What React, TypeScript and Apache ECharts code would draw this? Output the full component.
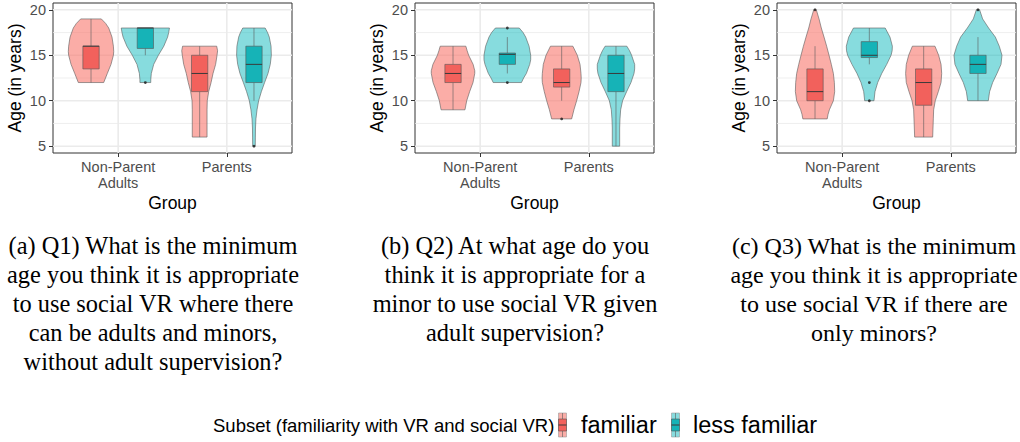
import React, { useEffect, useRef } from 'react';
import * as echarts from 'echarts';

// ---------- categories / ticks ----------
const groupLabels = ['Non-Parent\nAdults', 'Parents'];
const groupPositions = [1, 2];
const subsetNames = ['familiar', 'less familiar'];
const yTickValues = [5, 10, 15, 20];
const yMinorValues = [7.5, 12.5, 17.5];

// ---------- violin profiles: [age, half-width in group units] ----------
// Q1
const q1FamNpa = [[19, 0.095], [18.5, 0.135], [18, 0.163], [17, 0.193], [16, 0.206], [15.4, 0.209], [15, 0.206], [14, 0.184], [13, 0.15], [12, 0.117]];
const q1LessNpa = [[18, 0.222], [17.5, 0.215], [17, 0.205], [16, 0.17], [15, 0.12], [14, 0.077], [13, 0.055], [12.3, 0.05], [12, 0.05]];
const q1FamPar = [[16, 0.157], [15.5, 0.165], [15, 0.16], [14, 0.147], [13, 0.123], [12, 0.105], [11, 0.083], [10, 0.07], [9, 0.068], [6, 0.068]];
const q1LessPar = [[18, 0.103], [17.5, 0.125], [17, 0.141], [16, 0.157], [15, 0.16], [14, 0.15], [13, 0.129], [12, 0.098], [11, 0.068], [10, 0.043], [9, 0.028], [8, 0.018], [7, 0.014], [6, 0.013], [5, 0.012]];
// Q2
const q2FamNpa = [[16, 0.118], [15.5, 0.13], [15, 0.144], [14, 0.185], [13.3, 0.2], [13, 0.2], [12, 0.184], [11, 0.153], [10, 0.126], [9, 0.11]];
const q2LessNpa = [[18, 0.11], [17.5, 0.145], [17, 0.169], [16, 0.2], [15, 0.215], [14.5, 0.215], [14, 0.206], [13, 0.175], [12.5, 0.15], [12, 0.13]];
const q2FamPar = [[16, 0.103], [15, 0.144], [14, 0.169], [13, 0.178], [12.5, 0.18], [12, 0.178], [11, 0.16], [10, 0.138], [9, 0.113], [8, 0.092]];
const q2LessPar = [[16, 0.1], [15.5, 0.125], [15, 0.144], [14, 0.172], [13.5, 0.172], [13, 0.166], [12, 0.138], [11, 0.098], [10, 0.061], [9, 0.043], [8, 0.037], [7, 0.034], [5, 0.034]];
// Q3
const q3FamNpa = [[20, 0.012], [19, 0.037], [18, 0.058], [17, 0.083], [16, 0.107], [15, 0.129], [14, 0.15], [13, 0.169], [12, 0.178], [11, 0.181], [10, 0.169], [9, 0.132], [8.5, 0.12], [8, 0.112]];
const q3LessNpa = [[18, 0.146], [17, 0.19], [16, 0.212], [15.5, 0.21], [15, 0.2], [14, 0.16], [13, 0.114], [12, 0.077], [11, 0.052], [10, 0.043]];
const q3FamPar = [[16, 0.104], [15, 0.138], [14, 0.16], [13, 0.166], [12, 0.16], [11, 0.135], [10, 0.107], [9, 0.092], [8, 0.089], [6, 0.083]];
const q3LessPar = [[20, 0.015], [19, 0.043], [18, 0.098], [17, 0.16], [16, 0.196], [15, 0.221], [14, 0.212], [13, 0.175], [12, 0.135], [11, 0.107], [10, 0.095]];

// ---------- box stats: [min, q1, median, q3, max] ----------
const q1Boxes = [[12, 13.5, 16, 16, 19], [15, 15.75, 18, 18, 18], [6, 11, 13, 15, 16], [10, 12, 14, 16, 18]];
const q2Boxes = [[9, 12, 13, 14, 16], [13, 14, 15.1, 15.25, 17], [10, 11.5, 12, 13.5, 16], [5, 11, 13, 15, 16]];
const q3Boxes = [[8, 10, 11, 13.5, 16], [14, 14.75, 15, 16.5, 18], [6, 9.5, 12, 13.5, 16], [10, 13, 14, 15, 17]];

// ---------- outliers: [violin index, age] ----------
const q1Outliers = [[1, 12], [3, 5]];
const q2Outliers = [[1, 18], [1, 12], [2, 8]];
const q3Outliers = [[0, 20], [1, 12], [1, 10], [3, 20]];

// ---------- captions ----------
const captionA = ['(a) Q1) What is the minimum', 'age you think it is appropriate', 'to use social VR where there', 'can be adults and minors,', 'without adult supervision?'];
const captionB = ['(b) Q2) At what age do you', 'think it is appropriate for a', 'minor to use social VR given', 'adult supervision?'];
const captionC = ['(c) Q3) What is the minimum', 'age you think it is appropriate', 'to use social VR if there are', 'only minors?'];
const legendTitle = 'Subset (familiarity with VR and social VR)';

const panels = [
  { profiles: [q1FamNpa, q1LessNpa, q1FamPar, q1LessPar], boxes: q1Boxes, outliers: q1Outliers, caption: captionA },
  { profiles: [q2FamNpa, q2LessNpa, q2FamPar, q2LessPar], boxes: q2Boxes, outliers: q2Outliers, caption: captionB },
  { profiles: [q3FamNpa, q3LessNpa, q3FamPar, q3LessPar], boxes: q3Boxes, outliers: q3Outliers, caption: captionC },
];

const DODGE = 0.25;
const BOX_HALF = 0.075;
const X_MIN = 0.4, X_MAX = 2.6, Y_MIN = 4.25, Y_MAX = 20.75;
const violinFills = ['rgba(248,118,109,0.6)', 'rgba(0,180,185,0.47)'];
const boxFills = ['#F2615C', '#16B3B7'];
const SANS = '"Liberation Sans", Arial, sans-serif';
const SERIF = '"Liberation Serif", "Times New Roman", serif';

function centerOf(i: number) {
  const g = groupPositions[Math.floor(i / 2)];
  return g + (i % 2 === 0 ? -DODGE : DODGE);
}

function buildOption() {
  const PANEL_STEP = 362;
  const grid: any[] = [];
  const xAxis: any[] = [];
  const yAxis: any[] = [];
  const series: any[] = [];
  const graphic: any[] = [];

  panels.forEach((p, pi) => {
    grid.push({ left: 53 + PANEL_STEP * pi, top: 3, width: 239, height: 150, show: true, borderColor: '#333333', borderWidth: 1, backgroundColor: 'transparent' });
    xAxis.push({
      type: 'value', gridIndex: pi, min: X_MIN, max: X_MAX,
      axisLine: { show: false }, splitLine: { show: false },
      axisTick: { show: true, customValues: groupPositions, length: 4, lineStyle: { color: '#333333', width: 1 } },
      axisLabel: {
        customValues: groupPositions, margin: 6, color: '#4D4D4D', fontSize: 14.5, lineHeight: 16, fontFamily: SANS,
        formatter: (v: number) => groupLabels[groupPositions.indexOf(Math.round(v))] ?? '',
      },
      name: 'Group', nameLocation: 'middle', nameGap: 41,
      nameTextStyle: { color: '#000', fontSize: 17.5, fontFamily: SANS },
    });
    yAxis.push({
      type: 'value', gridIndex: pi, min: Y_MIN, max: Y_MAX,
      axisLine: { show: false }, splitLine: { show: false },
      axisTick: { show: true, customValues: yTickValues, length: 4, lineStyle: { color: '#333333', width: 1 } },
      axisLabel: { customValues: yTickValues, margin: 7, color: '#4D4D4D', fontSize: 14.5, fontFamily: SANS },
      name: 'Age (in years)', nameLocation: 'middle', nameRotate: 90, nameGap: 29,
      nameTextStyle: { color: '#000', fontSize: 17.5, fontFamily: SANS },
    });

    // grid lines
    const gridData: number[][] = [];
    yTickValues.forEach((v) => gridData.push([X_MIN, v, X_MAX, v, 1.6]));
    yMinorValues.forEach((v) => gridData.push([X_MIN, v, X_MAX, v, 0.8]));
    groupPositions.forEach((v) => gridData.push([v, Y_MIN, v, Y_MAX, 1.6]));
    series.push({
      type: 'custom', xAxisIndex: pi, yAxisIndex: pi, z: 0, silent: true,
      data: gridData,
      renderItem: (params: any, api: any) => {
        const a = api.coord([api.value(0), api.value(1)]);
        const b = api.coord([api.value(2), api.value(3)]);
        return { type: 'line', shape: { x1: a[0], y1: a[1], x2: b[0], y2: b[1] }, style: { stroke: '#EBEBEB', lineWidth: api.value(4) } };
      },
    });

    // violins
    series.push({
      type: 'custom', xAxisIndex: pi, yAxisIndex: pi, z: 2, silent: true,
      data: p.profiles.map((prof, i) => [centerOf(i), prof[0][0]]),
      renderItem: (params: any, api: any) => {
        const i = params.dataIndex;
        const prof = p.profiles[i];
        const cx = centerOf(i);
        const right = prof.map(([age, hw]) => api.coord([cx + hw, age]));
        const left = prof.slice().reverse().map(([age, hw]) => api.coord([cx - hw, age]));
        return {
          type: 'polygon', shape: { points: right.concat(left) },
          style: { fill: violinFills[i % 2], stroke: '#5A5A5A', lineWidth: 0.6 },
        };
      },
    });

    // boxes
    series.push({
      type: 'custom', xAxisIndex: pi, yAxisIndex: pi, z: 3, silent: true,
      encode: { x: 0, y: [1, 2, 3, 4, 5] },
      data: p.boxes.map((b, i) => [centerOf(i), ...b]),
      renderItem: (params: any, api: any) => {
        const i = params.dataIndex;
        const cx = api.value(0);
        const mn = api.value(1), q1 = api.value(2), md = api.value(3), q3 = api.value(4), mx = api.value(5);
        const top = api.coord([cx, mx]);
        const bot = api.coord([cx, mn]);
        const tl = api.coord([cx - BOX_HALF, q3]);
        const br = api.coord([cx + BOX_HALF, q1]);
        const mL = api.coord([cx - BOX_HALF, md]);
        const mR = api.coord([cx + BOX_HALF, md]);
        const wStyle = { stroke: '#5A5A5A', lineWidth: 0.6 };
        return {
          type: 'group',
          children: [
            { type: 'line', shape: { x1: top[0], y1: top[1], x2: top[0], y2: tl[1] }, style: wStyle },
            { type: 'line', shape: { x1: bot[0], y1: br[1], x2: bot[0], y2: bot[1] }, style: wStyle },
            { type: 'rect', shape: { x: tl[0], y: tl[1], width: br[0] - tl[0], height: br[1] - tl[1] }, style: { fill: boxFills[i % 2], stroke: '#555555', lineWidth: 0.6 } },
            { type: 'line', shape: { x1: mL[0], y1: mL[1], x2: mR[0], y2: mR[1] }, style: { stroke: '#3A3A3A', lineWidth: 1 } },
          ],
        };
      },
    });

    // outliers
    series.push({
      type: 'scatter', xAxisIndex: pi, yAxisIndex: pi, z: 4, silent: true,
      symbol: 'circle', symbolSize: 2.8,
      itemStyle: { color: '#1A1A1A' },
      data: p.outliers.map(([vi, age]) => [centerOf(vi), age]),
    });

    // caption (the last one is kept just inside the right edge)
    const capX = pi === 2 ? 874 : 153 + PANEL_STEP * pi;
    const capSize = pi === 2 ? 24 : 24.4;
    graphic.push({
      type: 'text', x: capX, y: 231, silent: true,
      style: { text: p.caption.join('\n'), font: `${capSize}px ${SERIF}`, lineHeight: 29, fill: '#000', align: 'center', verticalAlign: 'top' },
    });
  });

  // legend
  const keyY = 413, keyH = 24, keyW = 8;
  const keyXs = [558.5, 671.5];
  graphic.push({
    type: 'text', x: 213, y: 425.5, silent: true,
    style: { text: legendTitle, font: `18.5px ${SANS}`, fill: '#000', verticalAlign: 'middle' },
  });
  keyXs.forEach((kx, k) => {
    const cx = kx + keyW / 2;
    graphic.push({ type: 'rect', silent: true, shape: { x: kx, y: keyY, width: keyW, height: keyH }, style: { fill: violinFills[k], stroke: '#9A9A9A', lineWidth: 0.6 } });
    graphic.push({ type: 'line', silent: true, shape: { x1: cx, y1: keyY, x2: cx, y2: keyY + 6 }, style: { stroke: '#5A5A5A', lineWidth: 0.6 } });
    graphic.push({ type: 'line', silent: true, shape: { x1: cx, y1: keyY + 18, x2: cx, y2: keyY + keyH }, style: { stroke: '#5A5A5A', lineWidth: 0.6 } });
    graphic.push({ type: 'rect', silent: true, shape: { x: kx, y: keyY + 6, width: keyW, height: 12 }, style: { fill: boxFills[k], stroke: '#555555', lineWidth: 0.6 } });
    graphic.push({ type: 'line', silent: true, shape: { x1: kx, y1: keyY + 12, x2: kx + keyW, y2: keyY + 12 }, style: { stroke: '#3A3A3A', lineWidth: 1 } });
  });
  const labelXs = [581, 693];
  subsetNames.forEach((name, k) => {
    graphic.push({ type: 'text', x: labelXs[k], y: 425, silent: true, style: { text: name, font: `23.5px ${SANS}`, fill: '#000', verticalAlign: 'middle' } });
  });

  return { animation: false, textStyle: { fontFamily: SANS }, grid, xAxis, yAxis, series, graphic };
}

export default function App() {
  const ref = useRef<HTMLDivElement>(null);
  useEffect(() => {
    if (!ref.current) return;
    const chart = echarts.init(ref.current, undefined, { renderer: 'svg' });
    chart.setOption(buildOption() as any);
    return () => chart.dispose();
  }, []);
  return <div ref={ref} style={{ position: 'absolute', left: 0, top: 0, width: 1020, height: 442, background: '#fff' }} />;
}
